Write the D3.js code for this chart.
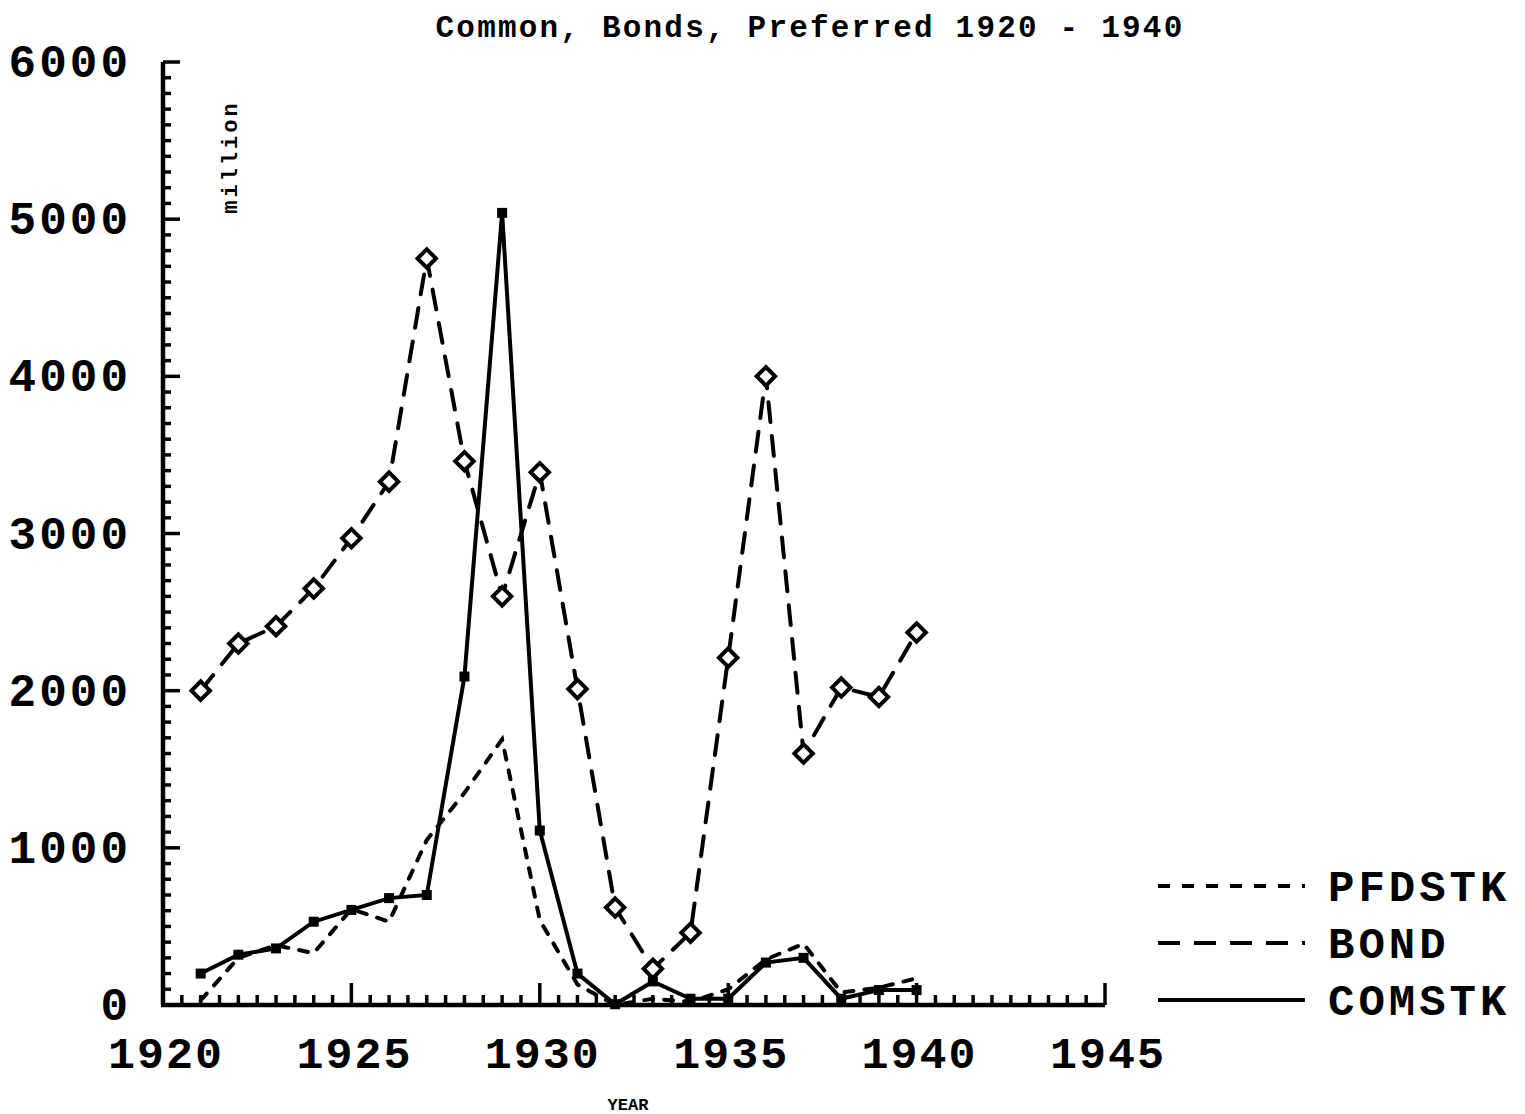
<!DOCTYPE html>
<html>
<head>
<meta charset="utf-8">
<script src="https://cdn.jsdelivr.net/npm/d3@7"></script>
<style>
  body { margin: 0; background: #fff; }
  text { font-family: "Courier New", "Liberation Mono", monospace; font-weight: bold; fill: #000; }
</style>
</head>
<body>
<div id="container"></div>
<script>
// data
var years = [1921, 1922, 1923, 1924, 1925, 1926, 1927, 1928, 1929, 1930,
             1931, 1932, 1933, 1934, 1935, 1936, 1937, 1938, 1939, 1940];
var bond = [2000, 2300, 2410, 2650, 2970, 3330, 4750, 3460, 2600, 3390,
            2010, 620, 230, 460, 2210, 4000, 1600, 2020, 1960, 2370];
var comstk = [200, 320, 360, 530, 605, 680, 700, 2090, 5040, 1110,
              200, 5, 150, 40, 40, 270, 300, 40, 95, 95];
var pfdstk = [30, 300, 380, 330, 610, 530, 1050, 1350, 1690, 540,
              130, 0, 40, 20, 100, 290, 390, 80, 110, 170];
var xTickLabels = [1920, 1925, 1930, 1935, 1940, 1945];
var yTickLabels = [0, 1000, 2000, 3000, 4000, 5000, 6000];
var legendNames = ["PFDSTK", "BOND", "COMSTK"];

var w = 1525, h = 1114;

var svg = d3.select("div#container")
  .append("svg")
  .attr("width", w)
  .attr("height", h);

svg.append('rect')
  .attr('width', '100%')
  .attr('height', '100%')
  .attr('fill', '#fff');

var x = d3.scaleLinear().domain([1920, 1945]).range([163, 1105]);
var y = d3.scaleLinear().domain([0, 6000]).range([1005, 62]);

// title
svg.append("text")
  .attr("x", 810)
  .attr("y", 37)
  .attr("text-anchor", "middle")
  .style("font-size", "31px")
  .style("letter-spacing", "2.2px")
  .text("Common, Bonds, Preferred 1920 - 1940");

// axes - ticks point inward like the original
var axis = svg.append("g").attr("class", "axis");

axis.append("line")
  .attr("x1", x(1920)).attr("x2", x(1920))
  .attr("y1", y(6000)).attr("y2", y(0))
  .attr("stroke", "#000").attr("stroke-width", 4.5);
axis.append("line")
  .attr("x1", x(1920) - 2).attr("x2", x(1945))
  .attr("y1", y(0)).attr("y2", y(0))
  .attr("stroke", "#000").attr("stroke-width", 4.5);

// y minor ticks every 100
axis.selectAll("line.ytick")
  .data(d3.range(100, 6001, 100))
  .enter().append("line")
  .attr("class", "ytick")
  .attr("x1", x(1920))
  .attr("x2", function(d) { return x(1920) + (d % 1000 === 0 ? 17 : 8); })
  .attr("y1", function(d) { return y(d); })
  .attr("y2", function(d) { return y(d); })
  .attr("stroke", "#000").attr("stroke-width", 3.5);

// x minor ticks every half year
axis.selectAll("line.xtick")
  .data(d3.range(1920.5, 1945.01, 0.5))
  .enter().append("line")
  .attr("class", "xtick")
  .attr("x1", function(d) { return x(d); })
  .attr("x2", function(d) { return x(d); })
  .attr("y1", y(0))
  .attr("y2", function(d) { return y(0) - (d % 5 === 0 ? 22 : 10); })
  .attr("stroke", "#000").attr("stroke-width", 3.5);

axis.selectAll("text.ylab")
  .data(yTickLabels)
  .enter().append("text")
  .attr("class", "ylab")
  .attr("x", 131)
  .attr("y", function(d) { return y(d) + 15; })
  .attr("text-anchor", "end")
  .style("font-size", "46px")
  .style("letter-spacing", "3px")
  .text(function(d) { return d; });

axis.selectAll("text.xlab")
  .data(xTickLabels)
  .enter().append("text")
  .attr("class", "xlab")
  .attr("x", function(d) { return x(d) + 3; })
  .attr("y", 1068)
  .attr("text-anchor", "middle")
  .style("font-size", "45px")
  .style("letter-spacing", "2px")
  .text(function(d) { return d; });

svg.append("text")
  .attr("x", 628)
  .attr("y", 1110)
  .attr("text-anchor", "middle")
  .style("font-size", "17px")
  .text("YEAR");

svg.append("text")
  .attr("transform", "translate(237,157) rotate(-90)")
  .attr("text-anchor", "middle")
  .style("font-size", "22px")
  .style("letter-spacing", "3px")
  .text("million");

// lines
var line = function(vals) {
  return d3.line()
    .x(function(d, i) { return x(years[i]); })
    .y(function(d) { return y(d); })(vals);
};

var plot = svg.append("g");

plot.append("path")
  .attr("d", line(pfdstk))
  .attr("fill", "none").attr("stroke", "#000")
  .attr("stroke-width", 4)
  .attr("stroke-linecap", "round")
  .attr("stroke-dasharray", "9,11");

plot.append("path")
  .attr("d", line(bond))
  .attr("fill", "none").attr("stroke", "#000")
  .attr("stroke-width", 4)
  .attr("stroke-linecap", "round")
  .attr("stroke-dasharray", "20,14");

plot.append("path")
  .attr("d", line(comstk))
  .attr("fill", "none").attr("stroke", "#000")
  .attr("stroke-width", 4);

// diamonds on BOND
plot.selectAll("path.diamond")
  .data(bond)
  .enter().append("path")
  .attr("class", "diamond")
  .attr("d", d3.symbol(d3.symbolSquare, 170))
  .attr("transform", function(d, i) { return "translate(" + x(years[i]) + "," + y(d) + ") rotate(45)"; })
  .attr("fill", "#fff").attr("stroke", "#000").attr("stroke-width", 4);

// squares on COMSTK
plot.selectAll("rect.sq")
  .data(comstk)
  .enter().append("rect")
  .attr("class", "sq")
  .attr("x", function(d, i) { return x(years[i]) - 5; })
  .attr("y", function(d) { return y(d) - 5; })
  .attr("width", 10).attr("height", 10)
  .attr("fill", "#000");

// legend
var legendDash = ["12,12", "22,14", null];
var legend = svg.append("g");
legendNames.forEach(function(name, i) {
  var ly = 886 + i * 57;
  legend.append("line")
    .attr("x1", 1158).attr("x2", 1305)
    .attr("y1", ly).attr("y2", ly)
    .attr("stroke", "#000").attr("stroke-width", 4)
    .attr("stroke-dasharray", legendDash[i]);
  legend.append("text")
    .attr("x", 1328)
    .attr("y", ly + 15)
    .style("font-size", "44px")
    .style("letter-spacing", "4px")
    .text(name);
});
</script>
</body>
</html>
